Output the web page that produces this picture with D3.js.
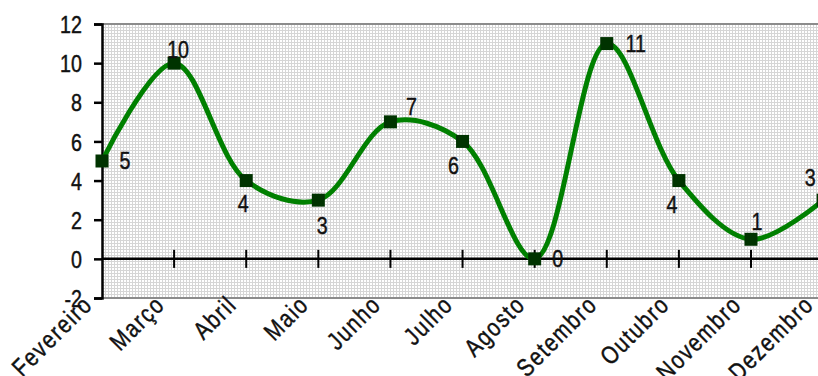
<!DOCTYPE html>
<html>
<head>
<meta charset="utf-8">
<script src="https://cdn.jsdelivr.net/npm/d3@7"></script>
<style>
  html, body { margin: 0; padding: 0; background: #fff; }
  svg { display: block; }
  text { font-family: "Liberation Sans", Arial, sans-serif; fill: #111; stroke: #111; stroke-width: 0.45px; }
</style>
</head>
<body>
<svg id="chart" width="818" height="376"></svg>
<script>
const months = ["Fevereiro", "Março", "Abril", "Maio", "Junho", "Julho", "Agosto", "Setembro", "Outubro", "Novembro", "Dezembro"];
const values = [5, 10, 4, 3, 7, 6, 0, 11, 4, 1, 3];
const yTicks = [-2, 0, 2, 4, 6, 8, 10, 12];

// label placement offsets (presentation only)
const labelOffsets = [[23, 8], [4, -5], [-3, 31], [4, 34], [21, -7], [-9, 33], [23, 8], [29, 8], [-7, 32], [6, -9], [-13, -14]];

const FS = 24, SX = 0.82;
const svg = d3.select("#chart");
const pLeft = 102, pTop = 24, pBottom = 298, pRight = 818;

const x = d3.scalePoint().domain(months).range([102, 823.1]);
const y = d3.scaleLinear().domain([-2, 12]).range([pBottom, pTop]);

// grid pattern
const defs = svg.append("defs");
const pat = defs.append("pattern").attr("id", "grid").attr("patternUnits", "userSpaceOnUse")
  .attr("width", 3).attr("height", 3).attr("x", pLeft).attr("y", pTop);
pat.append("rect").attr("width", 3).attr("height", 3).attr("fill", "#ffffff");
pat.append("rect").attr("x", 0).attr("y", 0).attr("width", 3).attr("height", 1).attr("fill", "#d6d6d6");
pat.append("rect").attr("x", 0).attr("y", 0).attr("width", 1).attr("height", 3).attr("fill", "#d6d6d6");

svg.append("rect").attr("x", pLeft).attr("y", pTop).attr("width", pRight - pLeft).attr("height", pBottom - pTop)
  .attr("fill", "url(#grid)");

// top & bottom gray borders
svg.append("line").attr("x1", pLeft).attr("x2", pRight).attr("y1", pTop).attr("y2", pTop)
  .attr("stroke", "#8c8c8c").attr("stroke-width", 2);
svg.append("line").attr("x1", pLeft).attr("x2", pRight).attr("y1", pBottom).attr("y2", pBottom)
  .attr("stroke", "#8c8c8c").attr("stroke-width", 2);

// y axis
const yAxis = d3.axisLeft(y).tickValues(yTicks).tickSize(8).tickPadding(10)
  .tickFormat(d => String(d));
const gy = svg.append("g").attr("transform", `translate(${pLeft},0)`).call(yAxis);
gy.select(".domain").attr("stroke", "#000").attr("stroke-width", 2.5);
gy.selectAll(".tick line").attr("stroke", "#000").attr("stroke-width", 2.5);
gy.selectAll(".tick text")
  .attr("x", null).attr("dy", "0.36em")
  .attr("transform", `translate(-20,0) scale(${SX},1)`)
  .attr("font-size", FS)
  .style("font-family", "'Liberation Sans', Arial, sans-serif")
  .attr("fill", "#111");

// x axis at zero
svg.append("line").attr("x1", pLeft).attr("x2", pRight).attr("y1", y(0)).attr("y2", y(0))
  .attr("stroke", "#000").attr("stroke-width", 2.5);
svg.append("g").selectAll("line").data(months.slice(1)).join("line")
  .attr("x1", d => x(d)).attr("x2", d => x(d))
  .attr("y1", y(0) - 9).attr("y2", y(0) + 9)
  .attr("stroke", "#000").attr("stroke-width", 2);

// x labels rotated
svg.append("g").selectAll("text").data(months).join("text")
  .attr("transform", d => `translate(${x(d) - 8},${pBottom + 8}) rotate(-45) scale(${SX},1)`)
  .attr("text-anchor", "end")
  .attr("font-size", 25)
  .attr("letter-spacing", 2)
  .text(d => d);

// line
const line = d3.line().x((d, i) => x(months[i])).y(d => y(d)).curve(d3.curveCatmullRom.alpha(0.5));
svg.append("path").datum(values).attr("d", line)
  .attr("fill", "none").attr("stroke", "#008000").attr("stroke-width", 5).attr("stroke-linejoin", "round");

// markers
svg.append("g").selectAll("rect").data(values).join("rect")
  .attr("x", (d, i) => x(months[i]) - 6.5).attr("y", d => y(d) - 6.5)
  .attr("width", 13).attr("height", 13).attr("fill", "#003300");

// data labels
svg.append("g").selectAll("text").data(values).join("text")
  .attr("transform", (d, i) => `translate(${x(months[i]) + labelOffsets[i][0]},${y(d) + labelOffsets[i][1]}) scale(${SX},1)`)
  .attr("text-anchor", "middle")
  .attr("font-size", FS)
  .text(d => d);
</script>
</body>
</html>
